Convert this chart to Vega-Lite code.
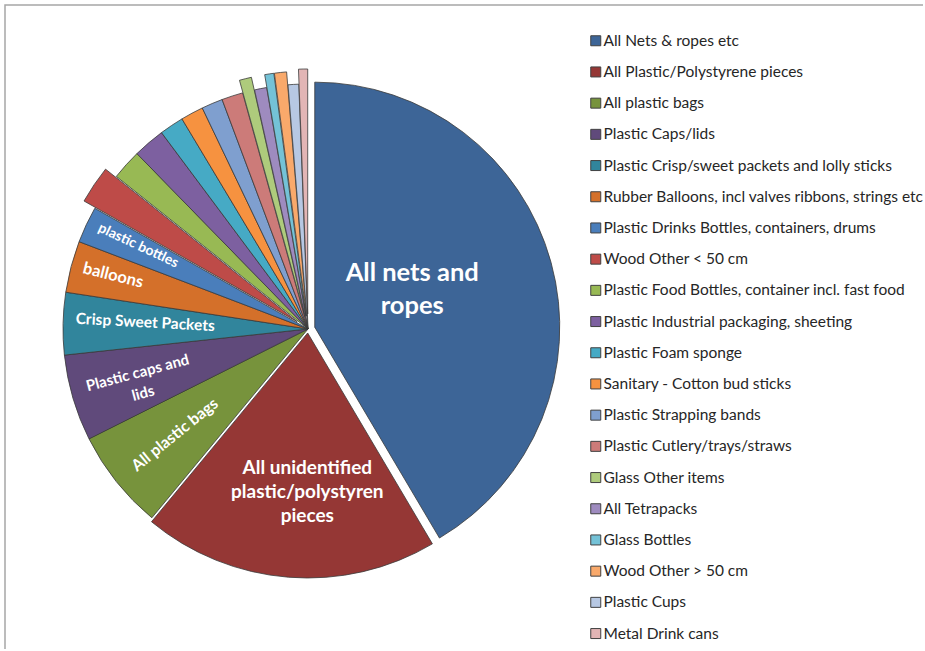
{
  "$schema": "https://vega.github.io/schema/vega-lite/v6.json",
  "autosize": "none",
  "padding": {"left": 5, "top": 5, "right": 0, "bottom": 0},
  "width": 920,
  "height": 646,
  "background": "white",
  "view": {"stroke": "#a6a6a6", "strokeWidth": 1.5, "fill": "white", "strokeDash": [918, 1570, 644, 4]},
  "config": {
    "font": "Lato"
  },
  "data": {
    "values": [
      {"order": 1, "cat": "All Nets & ropes etc", "pct": 41.5, "label": "All nets and\nropes"},
      {"order": 2, "cat": "All Plastic/Polystyrene pieces", "pct": 19.5, "label": "All unidentified\nplastic/polystyren\npieces"},
      {"order": 3, "cat": "All plastic bags", "pct": 6.6, "label": "All plastic bags"},
      {"order": 4, "cat": "Plastic Caps/lids", "pct": 5.7, "label": "Plastic caps and\nlids"},
      {"order": 5, "cat": "Plastic Crisp/sweet packets and lolly sticks", "pct": 4.1, "label": "Crisp Sweet Packets"},
      {"order": 6, "cat": "Rubber Balloons, incl valves ribbons, strings etc", "pct": 3.4, "label": "balloons"},
      {"order": 7, "cat": "Plastic Drinks Bottles, containers, drums", "pct": 2.4, "label": "plastic bottles"},
      {"order": 8, "cat": "Wood Other < 50 cm", "pct": 2.5, "label": ""},
      {"order": 9, "cat": "Plastic Food Bottles, container incl. fast food", "pct": 2.0, "label": ""},
      {"order": 10, "cat": "Plastic Industrial packaging, sheeting", "pct": 2.1, "label": ""},
      {"order": 11, "cat": "Plastic Foam sponge", "pct": 1.6, "label": ""},
      {"order": 12, "cat": "Sanitary - Cotton bud sticks", "pct": 1.5, "label": ""},
      {"order": 13, "cat": "Plastic Strapping bands", "pct": 1.4, "label": ""},
      {"order": 14, "cat": "Plastic Cutlery/trays/straws", "pct": 1.4, "label": ""},
      {"order": 15, "cat": "Glass Other items", "pct": 0.8, "label": ""},
      {"order": 16, "cat": "All Tetrapacks", "pct": 0.8, "label": ""},
      {"order": 17, "cat": "Glass Bottles", "pct": 0.6, "label": ""},
      {"order": 18, "cat": "Wood Other > 50 cm", "pct": 0.8, "label": ""},
      {"order": 19, "cat": "Plastic Cups", "pct": 0.7, "label": ""},
      {"order": 20, "cat": "Metal Drink cans", "pct": 0.6, "label": ""}
    ]
  },
  "transform": [
    {"stack": "pct", "groupby": [], "sort": [{"field": "order", "order": "ascending"}], "as": ["v0", "v1"]},
    {"calculate": "(datum.v0 + datum.v1) / 2", "as": "mid"}
  ],
  "layer": [
    {
      "mark": {
        "type": "arc",
        "stroke": "#3a3a3a",
        "strokeWidth": 0.8,
        "x": {"expr": "303 + (datum.order == 1 ? 7 : datum.order == 2 ? 4 : (datum.order == 8 || datum.order == 15 || datum.order == 17 || datum.order == 18) ? 13 : datum.order == 20 ? 15 : 0) * sin(datum.mid * 2 * PI / 100)"},
        "y": {"expr": "324 - (datum.order == 1 ? 7 : datum.order == 2 ? 4 : (datum.order == 8 || datum.order == 15 || datum.order == 17 || datum.order == 18) ? 13 : datum.order == 20 ? 15 : 0) * cos(datum.mid * 2 * PI / 100)"},
        "outerRadius": 245
      },
      "encoding": {
        "theta": {"field": "v0", "type": "quantitative", "stack": null, "scale": {"domain": [0, 100], "range": [0, 6.283185307], "zero": true, "nice": false}},
        "theta2": {"field": "v1"},
        "fill": {
          "field": "cat",
          "type": "nominal",
          "scale": {
            "domain": ["All Nets & ropes etc", "All Plastic/Polystyrene pieces", "All plastic bags", "Plastic Caps/lids", "Plastic Crisp/sweet packets and lolly sticks", "Rubber Balloons, incl valves ribbons, strings etc", "Plastic Drinks Bottles, containers, drums", "Wood Other < 50 cm", "Plastic Food Bottles, container incl. fast food", "Plastic Industrial packaging, sheeting", "Plastic Foam sponge", "Sanitary - Cotton bud sticks", "Plastic Strapping bands", "Plastic Cutlery/trays/straws", "Glass Other items", "All Tetrapacks", "Glass Bottles", "Wood Other > 50 cm", "Plastic Cups", "Metal Drink cans"],
            "range": ["#3D6597", "#953735", "#77933C", "#604A7B", "#31859C", "#D4702A", "#4A7EBB", "#BE4B48", "#98B954", "#7D60A0", "#46AAC5", "#F69240", "#7F9FCF", "#CC7B79", "#AECB7C", "#9E8BBF", "#74C2D7", "#F9A96B", "#B7C8E3", "#E2B5B5"]
          },
          "legend": {
            "title": null,
            "orient": "none",
            "legendX": 583,
            "legendY": 28,
            "symbolType": "square",
            "symbolSize": 100,
            "symbolStrokeColor": "#404040",
            "symbolStrokeWidth": 1,
            "labelFont": "Lato",
            "labelFontSize": 15.5,
            "labelColor": "#262626",
            "labelOffset": 0,
            "labelLimit": 600,
            "rowPadding": 14.2
          }
        }
      }
    },
    {
      "transform": [{"filter": "datum.order == 1"}],
      "mark": {"type": "text", "x": 303, "y": 324, "radius": 108, "dy": -28, "fontSize": 25.5, "lineHeight": 33, "fontWeight": "bold", "color": "white", "align": "center", "baseline": "middle", "lineBreak": "\n"},
      "encoding": {
        "theta": {"field": "mid", "type": "quantitative", "stack": null},
        "text": {"field": "label"}
      }
    },
    {
      "transform": [{"filter": "datum.order == 2"}],
      "mark": {"type": "text", "x": 303, "y": 324, "radius": 162, "dx": 12, "dy": -23, "fontSize": 19, "lineHeight": 24, "fontWeight": "bold", "color": "white", "align": "center", "baseline": "middle", "lineBreak": "\n"},
      "encoding": {
        "theta": {"field": "mid", "type": "quantitative", "stack": null},
        "text": {"field": "label"}
      }
    },
    {
      "transform": [{"filter": "datum.order == 3"}],
      "mark": {"type": "text", "x": 303, "y": 324, "radius": 170, "angle": -39, "fontSize": 16, "fontWeight": "bold", "color": "white", "align": "center", "baseline": "middle"},
      "encoding": {
        "theta": {"field": "mid", "type": "quantitative", "stack": null},
        "text": {"field": "label"}
      }
    },
    {
      "transform": [{"filter": "datum.order == 4"}],
      "mark": {"type": "text", "x": 303, "y": 324, "radius": 176, "angle": -15, "dy": -6, "fontSize": 15, "lineHeight": 21, "fontWeight": "bold", "color": "white", "align": "center", "baseline": "middle", "lineBreak": "\n"},
      "encoding": {
        "theta": {"field": "mid", "type": "quantitative", "stack": null},
        "text": {"field": "label"}
      }
    },
    {
      "transform": [{"filter": "datum.order == 5"}],
      "mark": {"type": "text", "x": 303, "y": 324, "radius": 163, "angle": 3, "dy": -3, "fontSize": 15.5, "fontWeight": "bold", "color": "white", "align": "center", "baseline": "middle"},
      "encoding": {
        "theta": {"field": "mid", "type": "quantitative", "stack": null},
        "text": {"field": "label"}
      }
    },
    {
      "transform": [{"filter": "datum.order == 6"}],
      "mark": {"type": "text", "x": 303, "y": 324, "radius": 202, "angle": 14, "dy": -2, "fontSize": 16.5, "fontWeight": "bold", "color": "white", "align": "center", "baseline": "middle"},
      "encoding": {
        "theta": {"field": "mid", "type": "quantitative", "stack": null},
        "text": {"field": "label"}
      }
    },
    {
      "transform": [{"filter": "datum.order == 7"}],
      "mark": {"type": "text", "x": 303, "y": 324, "radius": 189, "angle": 25, "dy": -3, "fontSize": 14, "fontWeight": "bold", "color": "white", "align": "center", "baseline": "middle"},
      "encoding": {
        "theta": {"field": "mid", "type": "quantitative", "stack": null},
        "text": {"field": "label"}
      }
    }
  ]
}
